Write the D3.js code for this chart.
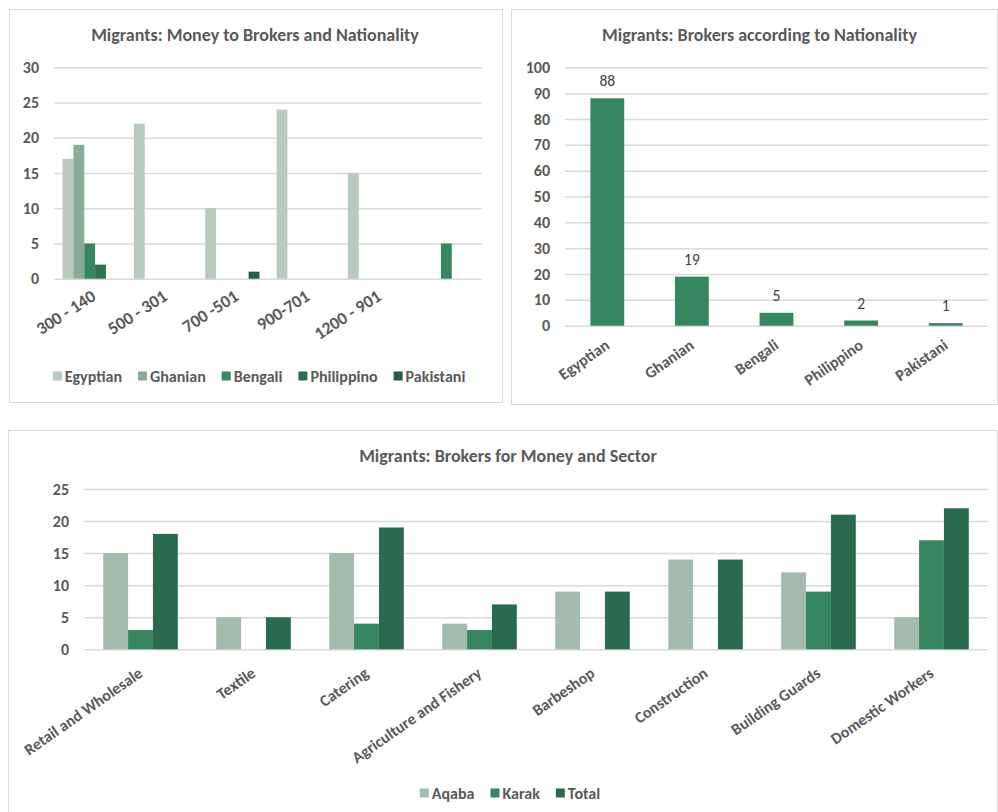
<!DOCTYPE html>
<html><head><meta charset="utf-8">
<script src="https://cdn.jsdelivr.net/npm/d3@7"></script>
<style>
html,body{margin:0;padding:0;background:#fff;}
svg{display:block;font-family:Carlito,Calibri,Lato,"Open Sans",sans-serif;}
</style></head>
<body>
<svg id="c" width="998" height="812"></svg>
<script>
// ---- Chart 1 data ----
const moneyCats = ["300 - 140", "500 - 301", "700 -501", "900-701", "1200 - 901", ""];
const natSeries = ["Egyptian", "Ghanian", "Bengali", "Philippino", "Pakistani"];
const egyptianVals = [17, 22, 10, 24, 15, 0];
const ghanianVals = [19, 0, 0, 0, 0, 0];
const bengaliVals = [5, 0, 0, 0, 0, 5];
const philippinoVals = [2, 0, 0, 0, 0, 0];
const pakistaniVals = [0, 0, 1, 0, 0, 0];
const ticks1 = [0, 5, 10, 15, 20, 25, 30];

// ---- Chart 2 data ----
const nationalities = ["Egyptian", "Ghanian", "Bengali", "Philippino", "Pakistani"];
const brokersByNat = [88, 19, 5, 2, 1];
const ticks2 = [0, 10, 20, 30, 40, 50, 60, 70, 80, 90, 100];

// ---- Chart 3 data ----
const sectors = ["Retail and Wholesale", "Textile", "Catering", "Agriculture and Fishery", "Barbeshop", "Construction", "Building Guards", "Domestic Workers"];
const sectorSeries = ["Aqaba", "Karak", "Total"];
const aqabaVals = [15, 5, 15, 4, 9, 14, 12, 5];
const karakVals = [3, 0, 4, 3, 0, 0, 9, 17];
const totalVals = [18, 5, 19, 7, 9, 14, 21, 22];
const ticks3 = [0, 5, 10, 15, 20, 25];

const natColors = ["#b8cabd", "#8aab97", "#36865f", "#2d7150", "#265d43"];
const sectorColors = ["#a4bcae", "#36865f", "#2a6b4f"];
const TXT = "#595959", GRID = "#d9d9d9";

const svg = d3.select("#c");

function panel(x, y, w, h) {
  svg.append("rect").attr("x", x + 0.5).attr("y", y + 0.5).attr("width", w).attr("height", h)
    .attr("fill", "#fff").attr("stroke", GRID).attr("stroke-width", 1);
}
function title(x, y, t) {
  svg.append("text").attr("x", x).attr("y", y).attr("text-anchor", "middle")
    .attr("font-size", 18).attr("font-weight", "bold").attr("fill", TXT).text(t);
}
function yAxis(y, x0, x1, ticks, fs) {
  const g = svg.append("g").attr("transform", `translate(${x0},0)`);
  g.call(d3.axisLeft(y).tickValues(ticks).tickSize(-(x1 - x0)).tickPadding(15));
  g.select(".domain").remove();
  g.selectAll(".tick line").attr("stroke", GRID).attr("stroke-width", 1.5);
  g.selectAll(".tick text").attr("fill", TXT).attr("font-size", fs).attr("font-weight", "bold")
    .attr("font-family", "Carlito,Calibri,Lato,sans-serif");
}
function xLabels(x, yPos, cats, fs, weight, angle) {
  const g = svg.append("g");
  cats.forEach(c => {
    const cx = x(c) + x.bandwidth() / 2;
    g.append("text").attr("transform", `translate(${cx},${yPos}) rotate(${angle})`)
      .attr("text-anchor", "end").attr("dy", "0.35em")
      .attr("font-size", fs).attr("font-weight", weight).attr("fill", TXT).text(c);
  });
}
function legend(cx, y, names, colors, fs, gap) {
  const g = svg.append("g");
  const items = [];
  let xx = 0;
  names.forEach((n, i) => {
    const it = g.append("g");
    it.append("rect").attr("x", 0).attr("y", -4.5).attr("width", 9).attr("height", 9).attr("fill", colors[i]);
    const t = it.append("text").attr("x", 12).attr("dy", "0.35em").attr("font-size", fs)
      .attr("font-weight", "bold").attr("fill", TXT).text(n);
    const w = 12 + t.node().getComputedTextLength();
    items.push([it, xx]);
    xx += w + gap;
  });
  const total = xx - gap;
  items.forEach(([it, px]) => it.attr("transform", `translate(${cx - total / 2 + px},${y})`));
}

// ================= Chart 1 =================
panel(9, 9, 493, 393);
title(255, 41, "Migrants: Money to Brokers and Nationality");
{
  const x0 = 54, x1 = 482;
  const y = d3.scaleLinear().domain([0, 30]).range([278.7, 67.3]);
  yAxis(y, x0, x1, ticks1, 16);
  const x = d3.scaleBand().domain(moneyCats.map((c, i) => i)).range([x0, x1]).paddingInner(0.24).paddingOuter(0.12);
  const xs = d3.scaleBand().domain(natSeries).range([0, x.bandwidth()]);
  const seriesVals = [egyptianVals, ghanianVals, bengaliVals, philippinoVals, pakistaniVals];
  natSeries.forEach((s, si) => {
    svg.append("g").selectAll("rect").data(seriesVals[si]).join("rect")
      .attr("x", (d, i) => x(i) + xs(s)).attr("width", xs.bandwidth())
      .attr("y", d => y(d)).attr("height", d => y(0) - y(d)).attr("fill", natColors[si]);
  });
  const g = svg.append("g");
  moneyCats.forEach((c, i) => {
    const cx = x0 + (i + 0.5) * (x1 - x0) / moneyCats.length;
    g.append("text").attr("transform", `translate(${cx + 4},${294}) rotate(-33)`)
      .attr("text-anchor", "end").attr("dy", "0.35em")
      .attr("font-size", 17.5).attr("font-weight", "bold").attr("fill", TXT).text(c);
  });
  legend(259, 376, natSeries, natColors, 16, 16);
}

// ================= Chart 2 =================
panel(511, 9, 486, 395);
title(759.5, 41, "Migrants: Brokers according to Nationality");
{
  const x0 = 565, x1 = 988;
  const y = d3.scaleLinear().domain([0, 100]).range([325.7, 67.3]);
  yAxis(y, x0, x1, ticks2, 16);
  const x = d3.scaleBand().domain(nationalities).range([x0, x1]).paddingInner(0.6).paddingOuter(0.3);
  svg.append("g").selectAll("rect").data(brokersByNat).join("rect")
    .attr("x", (d, i) => x(nationalities[i])).attr("width", x.bandwidth())
    .attr("y", d => y(d)).attr("height", d => y(0) - y(d)).attr("fill", "#36865f");
  svg.append("g").selectAll("text").data(brokersByNat).join("text")
    .attr("x", (d, i) => x(nationalities[i]) + x.bandwidth() / 2).attr("y", d => y(d) - 12)
    .attr("text-anchor", "middle").attr("font-size", 15.5).attr("fill", "#404040").text(d => d);
  xLabels(x, 343, nationalities, 16, 600, -35);
}

// ================= Chart 3 =================
panel(8, 430, 989, 390);
title(508, 462, "Migrants: Brokers for Money and Sector");
{
  const x0 = 84, x1 = 988;
  const y = d3.scaleLinear().domain([0, 25]).range([649.3, 489]);
  yAxis(y, x0, x1, ticks3, 16);
  const x = d3.scaleBand().domain(sectors).range([x0, x1]).paddingInner(0.34).paddingOuter(0.17);
  const xs = d3.scaleBand().domain(sectorSeries).range([0, x.bandwidth()]);
  const vals = [aqabaVals, karakVals, totalVals];
  sectorSeries.forEach((s, si) => {
    svg.append("g").selectAll("rect").data(vals[si]).join("rect")
      .attr("x", (d, i) => x(sectors[i]) + xs(s)).attr("width", xs.bandwidth())
      .attr("y", d => y(d)).attr("height", d => y(0) - y(d)).attr("fill", sectorColors[si]);
  });
  xLabels(x, 671, sectors, 16, 600, -35);
  legend(510, 793, sectorSeries, sectorColors, 16, 16);
}
</script>
</body></html>
